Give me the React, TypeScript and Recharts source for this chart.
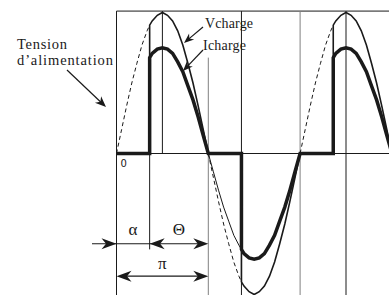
import { ComposedChart, Line, XAxis, YAxis, ReferenceLine } from 'recharts';

// angles in degrees, values relative to supply peak
const ALPHA = 65;

// supply voltage where the load is cut off (dashed)
const supplyA: [number, number][] = [
    [0, 0], [10, 0.17], [20, 0.34], [30, 0.5], [40, 0.64], [50, 0.77], [60, 0.87], [65, 0.91],
];
const supplyB: [number, number][] = [
    [180, 0], [190, -0.17], [200, -0.34], [210, -0.5], [220, -0.64], [230, -0.77], [240, -0.87], [245, -0.91],
];
const supplyC: [number, number][] = [
    [360, 0], [370, 0.17], [380, 0.34], [390, 0.5], [400, 0.64], [410, 0.77], [420, 0.87], [425, 0.91],
];

const vCharge: [number, number][] = [
    [0, 0], [65, 0], [65, 0.91], [70, 0.94], [80, 0.98], [90, 1], [100, 0.98], [110, 0.94], [120, 0.87],
    [130, 0.77], [140, 0.64], [150, 0.5], [160, 0.34], [170, 0.17], [180, 0],
    [245, 0], [245, -0.91], [250, -0.94], [260, -0.98], [270, -1], [280, -0.98], [290, -0.94], [300, -0.87],
    [310, -0.77], [320, -0.64], [330, -0.5], [340, -0.34], [350, -0.17], [360, 0],
    [425, 0], [425, 0.91], [430, 0.94], [440, 0.98], [450, 1], [460, 0.98], [470, 0.94], [480, 0.87],
    [490, 0.77], [500, 0.64], [510, 0.5], [520, 0.34], [530, 0.17], [540, 0],
];

const iCharge: [number, number][] = [
    [0, 0], [65, 0], [65, 0.68], [70, 0.71], [80, 0.74], [90, 0.75], [100, 0.74], [110, 0.71], [120, 0.65],
    [130, 0.58], [140, 0.48], [150, 0.38], [160, 0.26], [170, 0.13], [180, 0],
    [245, 0], [245, -0.68], [250, -0.71], [260, -0.74], [270, -0.75], [280, -0.74], [290, -0.71], [300, -0.65],
    [310, -0.58], [320, -0.48], [330, -0.38], [340, -0.26], [350, -0.13], [360, 0],
    [425, 0], [425, 0.68], [430, 0.71], [440, 0.74], [450, 0.75], [460, 0.74], [470, 0.71], [480, 0.65],
    [490, 0.58], [500, 0.48], [510, 0.38], [520, 0.26], [530, 0.13], [540, 0],
];

// current shape while blocked (drawn thin)
const iNatural: [number, number][] = [
    [180, 0], [190, -0.13], [200, -0.26], [210, -0.38], [220, -0.48], [230, -0.58], [240, -0.65], [245, -0.68],
];

const W = 389;
const H = 295;
const X0 = 116.5;
const PX_PER_DEG = 0.51;
const Y0 = 153.5;
const PX_PER_UNIT = 141;
const X_MIN = -X0 / PX_PER_DEG;
const X_MAX = (W - X0) / PX_PER_DEG;
const Y_MIN = -(H - Y0) / PX_PER_UNIT;
const Y_MAX = Y0 / PX_PER_UNIT;
const TOP = 1.01;

const px = (a: number) => X0 + a * PX_PER_DEG;
const py = (v: number) => Y0 - v * PX_PER_UNIT;

const toPts = (arr: [number, number][]) => arr.map(([a, v]) => ({ a, v }));

const INK = '#1a1a1a';
const GREY = '#808080';
const SERIF = '"Liberation Serif", "DejaVu Serif", serif';

function Head({ x, y, dir, len = 15, half = 5.5 }: { x: number; y: number; dir: number; len?: number; half?: number }) {
    // dir in radians, tip at (x, y)
    const c = Math.cos(dir), s = Math.sin(dir);
    const p = (dx: number, dy: number) => `${x + dx * c - dy * s},${y + dx * s + dy * c}`;
    return <polygon points={[p(0, 0), p(-len, -half), p(-len * 0.7, 0), p(-len, half)].join(' ')} fill={INK} />;
}

function Arrow({ x1, y1, x2, y2, len = 11, half = 4.5 }: { x1: number; y1: number; x2: number; y2: number; len?: number; half?: number }) {
    const dir = Math.atan2(y2 - y1, x2 - x1);
    return (
        <g>
            <line x1={x1} y1={y1} x2={x2 - Math.cos(dir) * len * 0.6} y2={y2 - Math.sin(dir) * len * 0.6} stroke={INK} strokeWidth={1.2} />
            <Head x={x2} y={y2} dir={dir} len={len} half={half} />
        </g>
    );
}

function Annotations() {
    const dimY = py(-0.64);
    const piY = py(-0.87);
    return (
        <svg width={W} height={H} style={{ position: 'absolute', left: 0, top: 0, pointerEvents: 'none' }}>
            <text x={17} y={49} fontFamily={SERIF} fontSize={14.5} fill={INK} textLength={50} lengthAdjust="spacing">Tension</text>
            <text x={17} y={65} fontFamily={SERIF} fontSize={14.5} fill={INK} textLength={96} lengthAdjust="spacing">d’alimentation</text>
            <Arrow x1={67} y1={70} x2={106} y2={107} />

            <text x={205} y={28} fontFamily={SERIF} fontSize={14} fill={INK} textLength={48} lengthAdjust="spacing">Vcharge</text>
            <text x={203} y={50} fontFamily={SERIF} fontSize={14} fill={INK} textLength={43} lengthAdjust="spacing">Icharge</text>
            <Arrow x1={203} y1={27} x2={184} y2={43} len={10} half={4} />
            <Arrow x1={203} y1={50} x2={183} y2={71} len={10} half={4} />

            <text x={px(0) + 4} y={167} fontFamily='"DejaVu Sans", sans-serif' fontSize={10} fill={INK}>0</text>

            {/* alpha / theta dimension */}
            <line x1={92} y1={dimY} x2={px(180) - 8} y2={dimY} stroke={INK} strokeWidth={1.2} />
            <Head x={px(0)} y={dimY} dir={0} />
            <Head x={px(ALPHA)} y={dimY} dir={Math.PI} />
            <Head x={px(180)} y={dimY} dir={0} />
            <text x={(px(0) + px(ALPHA)) / 2} y={dimY - 9} textAnchor="middle" fontFamily={SERIF} fontSize={17} fill={INK}>α</text>
            <text x={(px(ALPHA) + px(180)) / 2} y={dimY - 8.5} textAnchor="middle" fontFamily={SERIF} fontSize={17} fill={INK}>Θ</text>

            {/* pi dimension */}
            <line x1={px(0) + 8} y1={piY} x2={px(180) - 8} y2={piY} stroke={INK} strokeWidth={1.2} />
            <Head x={px(0)} y={piY} dir={Math.PI} />
            <Head x={px(180)} y={piY} dir={0} />
            <text x={(px(0) + px(180)) / 2} y={piY - 7} textAnchor="middle" fontFamily={SERIF} fontSize={17} fill={INK}>π</text>
        </svg>
    );
}

const vLines: { a: number; from: number; to: number; color: string }[] = [
    { a: 0, from: TOP, to: Y_MIN, color: INK },
    { a: ALPHA, from: 0, to: -0.68, color: INK },
    { a: 90, from: TOP, to: 0, color: INK },
    { a: 180, from: 0.68, to: Y_MIN, color: GREY },
    { a: 245, from: TOP, to: Y_MIN, color: INK },
    { a: 360, from: TOP, to: Y_MIN, color: GREY },
    { a: 450, from: TOP, to: Y_MIN, color: INK },
];

const thinSeries = [supplyA, supplyB, supplyC];

export default function App() {
    return (
        <div style={{ position: 'fixed', left: 0, top: 0, width: W, height: H, background: '#fff' }}>
            <ComposedChart width={W} height={H} margin={{ top: 0, right: 0, bottom: 0, left: 0 }}>
                <XAxis type="number" dataKey="a" domain={[X_MIN, X_MAX]} allowDataOverflow hide />
                <YAxis type="number" domain={[Y_MIN, Y_MAX]} allowDataOverflow hide />

                <ReferenceLine segment={[{ x: 0, y: TOP }, { x: X_MAX, y: TOP }]} stroke={INK} strokeWidth={1} ifOverflow="visible" />
                <ReferenceLine segment={[{ x: 0, y: 0 }, { x: X_MAX, y: 0 }]} stroke={INK} strokeWidth={1} ifOverflow="visible" />
                {vLines.map((l, i) => (
                    <ReferenceLine
                        key={i}
                        segment={[{ x: l.a, y: l.from }, { x: l.a, y: l.to }]}
                        stroke={l.color}
                        strokeWidth={1}
                        ifOverflow="visible"
                    />
                ))}

                {thinSeries.map((s, i) => (
                    <Line key={`s${i}`} data={toPts(s)} dataKey="v" type="linear" stroke={INK} strokeWidth={1} strokeDasharray="4 3" dot={false} activeDot={false} isAnimationActive={false} />
                ))}
                <Line data={toPts(iNatural)} dataKey="v" type="linear" stroke={INK} strokeWidth={1} dot={false} activeDot={false} isAnimationActive={false} />
                <Line data={toPts(vCharge)} dataKey="v" type="linear" stroke={INK} strokeWidth={1.6} dot={false} activeDot={false} isAnimationActive={false} />
                <Line data={toPts(iCharge)} dataKey="v" type="linear" stroke={INK} strokeWidth={3.5} strokeLinejoin="miter" dot={false} activeDot={false} isAnimationActive={false} />
            </ComposedChart>
            <Annotations />
        </div>
    );
}
